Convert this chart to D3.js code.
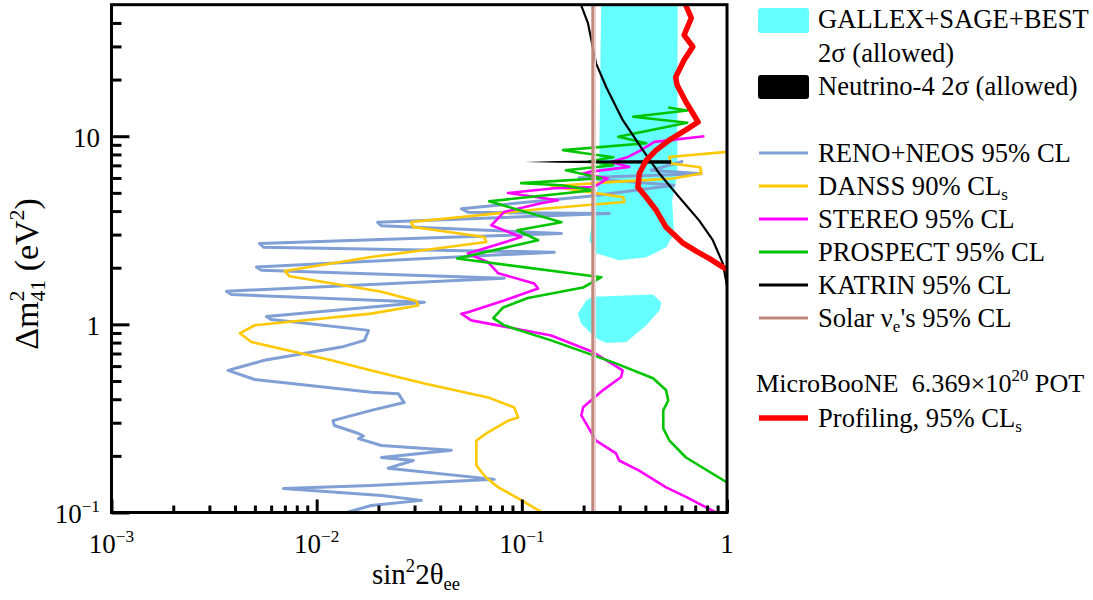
<!DOCTYPE html>
<html>
<head>
<meta charset="utf-8">
<script src="https://cdn.jsdelivr.net/npm/d3@7"></script>
<style>
  body { margin: 0; background: #fff; }
  text { font-family: "Liberation Serif", "Times New Roman", serif; fill: #000; }
</style>
</head>
<body>
<svg id="chart" width="1093" height="600"></svg>
<script>
// Axis ticks
const xMajor = [1e-3, 1e-2, 1e-1, 1];
const xMajorLabels = [["10", "−3"], ["10", "−2"], ["10", "−1"], ["1", ""]];
const yMajor = [0.1, 1, 10];
const yMajorLabels = [["10", "−1"], ["1", ""], ["10", ""]];
const xMinor = [2,3,4,5,6,7,8,9].flatMap(m => [m * 1e-3, m * 1e-2, m * 1e-1]);
const yMinor = [2,3,4,5,6,7,8,9].flatMap(m => [m * 0.1, m * 1]).concat([20, 30, 40]);

// Exclusion contours: [sin^2 2theta_ee, dm^2_41 (eV^2)]
const renoNeos = [[0.611,7.36],[0.427,6.59],[0.748,6.32],[0.190,6.02],[0.552,5.49],[0.213,4.80],[0.0507,4.12],[0.0548,3.94],[0.267,3.88],[0.0198,3.49],[0.0207,3.34],[0.156,3.04],[0.00526,2.69],[0.00550,2.57],[0.144,2.42],[0.00508,2.02],[0.00538,1.94],[0.0821,1.76],[0.00363,1.50],[0.00384,1.44],[0.0335,1.31],[0.00569,1.10],[0.00602,1.06],[0.0179,0.929],[0.0171,0.822],[0.0132,0.757],[0.00556,0.644],[0.00370,0.569],[0.00499,0.509],[0.01845,0.436],[0.0250,0.428],[0.0267,0.384],[0.01845,0.349],[0.0120,0.308],[0.0122,0.290],[0.0160,0.263],[0.0169,0.255],[0.0160,0.247],[0.0207,0.227],[0.0453,0.214],[0.0207,0.196],[0.0296,0.189],[0.0223,0.172],[0.0734,0.150],[0.01845,0.139],[0.00689,0.134],[0.0207,0.123],[0.0324,0.116],[0.01845,0.109],[0.0140,0.1]];

const danss = [[1.0,8.26],[0.523,7.76],[0.534,7.16],[0.740,6.84],[0.748,6.34],[0.547,5.96],[0.279,5.72],[0.139,5.42],[0.312,4.74],[0.316,4.47],[0.1315,4.13],[0.0289,3.50],[0.0295,3.29],[0.0656,2.91],[0.0671,2.74],[0.01845,2.28],[0.00699,1.92],[0.00738,1.80],[0.0207,1.49],[0.0306,1.33],[0.0312,1.26],[0.01845,1.14],[0.00499,0.989],[0.00422,0.896],[0.00481,0.805],[0.0118,0.644],[0.01845,0.569],[0.0335,0.485],[0.0685,0.409],[0.0918,0.362],[0.0960,0.320],[0.0859,0.308],[0.0671,0.263],[0.0600,0.241],[0.0600,0.178],[0.0671,0.153],[0.0768,0.136],[0.0960,0.119],[0.1256,0.1]];

const stereo = [[0.776,10.0],[0.443,9.33],[0.368,8.25],[0.329,7.76],[0.272,7.30],[0.334,6.87],[0.213,6.46],[0.199,6.34],[0.262,5.96],[0.225,5.37],[0.144,5.29],[0.0856,4.99],[0.150,4.57],[0.124,4.40],[0.082,3.96],[0.071,3.36],[0.0993,2.91],[0.0546,2.38],[0.0684,2.14],[0.0766,1.87],[0.115,1.65],[0.120,1.55],[0.082,1.34],[0.0546,1.16],[0.0507,1.14],[0.0567,1.05],[0.139,0.873],[0.222,0.713],[0.310,0.569],[0.305,0.525],[0.248,0.446],[0.199,0.363],[0.195,0.328],[0.230,0.241],[0.288,0.206],[0.298,0.189],[0.373,0.167],[0.505,0.136],[0.631,0.121],[0.883,0.1]];

const prospect = [[0.517,14.2],[0.640,13.7],[0.349,12.7],[0.640,11.8],[0.295,9.94],[0.404,9.18],[0.159,8.43],[0.279,7.73],[0.213,7.36],[0.279,7.01],[0.164,6.59],[0.244,5.98],[0.0993,5.63],[0.156,5.49],[0.223,5.16],[0.0693,4.51],[0.156,3.49],[0.0950,3.16],[0.120,2.80],[0.0484,2.24],[0.244,1.78],[0.199,1.57],[0.107,1.38],[0.0811,1.23],[0.0726,1.08],[0.0821,0.988],[0.139,0.822],[0.279,0.628],[0.436,0.517],[0.505,0.446],[0.517,0.394],[0.489,0.349],[0.489,0.280],[0.523,0.242],[0.631,0.196],[1.0,0.1445]];

const katrin = [[0.19,55],[0.1945,49.8],[0.210,39.9],[0.230,24.4],[0.258,18.2],[0.310,12.2],[0.389,8.43],[0.467,6.35],[0.585,4.74],[0.731,3.57],[0.853,2.80],[0.954,2.11],[1.0,1.61]];

const solarLimit = 0.222;

const microboone = [[0.605,55],[0.670,42.5],[0.618,34.5],[0.681,29.9],[0.618,25.4],[0.562,20.6],[0.571,18.7],[0.631,15.2],[0.723,11.9],[0.631,10.8],[0.523,9.53],[0.452,8.43],[0.404,7.45],[0.374,6.35],[0.368,5.36],[0.404,4.74],[0.452,4.04],[0.505,3.28],[0.611,2.70],[0.707,2.45],[0.818,2.24],[0.959,2.01],[1.0,1.96]];

// Allowed regions
const gallexUpper = [[0.244,60],[0.575,60],[0.573,6.35],[0.540,4.57],[0.552,3.05],[0.505,2.57],[0.404,2.27],[0.298,2.19],[0.230,2.39],[0.213,2.80],[0.223,3.80],[0.230,4.57],[0.238,6.35]];
const gallexLower = [[0.1875,1.14],[0.206,1.34],[0.222,1.40],[0.436,1.44],[0.478,1.31],[0.469,1.19],[0.404,0.99],[0.323,0.805],[0.258,0.796],[0.230,0.843],[0.1945,1.01]];
const neutrino4 = [[0.103,7.30],[0.15,7.38],[0.3,7.44],[0.534,7.46],[0.534,7.13],[0.3,7.15],[0.15,7.23]];

const svg = d3.select("#chart");
const x = d3.scaleLog().domain([1e-3, 1]).range([111.5, 727]);
const y = d3.scaleLog().domain([0.1, 50]).range([512.5, 4.7]);

svg.append("defs").append("clipPath").attr("id", "plotClip")
  .append("rect")
  .attr("x", x.range()[0]).attr("y", y.range()[1])
  .attr("width", x.range()[1] - x.range()[0])
  .attr("height", y.range()[0] - y.range()[1]);

const plot = svg.append("g").attr("clip-path", "url(#plotClip)");
const line = d3.line().x(d => x(d[0])).y(d => y(d[1]));
const area = d3.line().x(d => x(d[0])).y(d => y(d[1])).curve(d3.curveLinearClosed);

// Allowed regions
[gallexUpper, gallexLower].forEach(p =>
  plot.append("path").attr("d", area(p)).attr("fill", "#66ffff").attr("stroke", "none"));

// Exclusion curves
const curves = [
  { data: renoNeos, color: "#7f9fd5", width: 3 },
  { data: danss, color: "#ffc800", width: 2.6 },
  { data: stereo, color: "#ff00ff", width: 2.6 },
  { data: prospect, color: "#00c400", width: 2.6 },
  { data: katrin, color: "#000000", width: 2.2 }
];
curves.forEach(c =>
  plot.append("path").attr("d", line(c.data)).attr("fill", "none")
    .attr("stroke", c.color).attr("stroke-width", c.width)
    .attr("stroke-linejoin", "round"));

plot.append("path").attr("d", area(neutrino4)).attr("fill", "#000");

// Solar limit
plot.append("line")
  .attr("x1", x(solarLimit)).attr("x2", x(solarLimit))
  .attr("y1", y.range()[0]).attr("y2", y.range()[1])
  .attr("stroke", "#c0877d").attr("stroke-width", 3.2);
plot.append("line")
  .attr("transform", "translate(2.4,0)")
  .attr("x1", x(solarLimit)).attr("x2", x(solarLimit))
  .attr("y1", y.range()[0]).attr("y2", y.range()[1])
  .attr("stroke", "#ecd3cf").attr("stroke-width", 1.6);

// MicroBooNE profiling result
plot.append("path").attr("d", line(microboone)).attr("fill", "none")
  .attr("stroke", "#ff0000").attr("stroke-width", 5.5).attr("stroke-linejoin", "round");

// Axes with inward ticks
function styleAxis(g) {
  g.select(".domain").remove();
  g.selectAll(".tick line").attr("stroke", "#000").attr("stroke-width", 3);
  g.selectAll(".tick text").remove();
}
svg.append("g").attr("transform", `translate(${x.range()[0]},0)`)
  .call(d3.axisLeft(y).tickValues(yMajor).tickSize(-18)).call(styleAxis);
svg.append("g").attr("transform", `translate(${x.range()[0]},0)`)
  .call(d3.axisLeft(y).tickValues(yMinor).tickSize(-10)).call(styleAxis);
svg.append("g").attr("transform", `translate(0,${y.range()[0]})`)
  .call(d3.axisBottom(x).tickValues(xMajor).tickSize(-13)).call(styleAxis);
svg.append("g").attr("transform", `translate(0,${y.range()[0]})`)
  .call(d3.axisBottom(x).tickValues(xMinor).tickSize(-7)).call(styleAxis);

// Frame
svg.append("rect")
  .attr("x", x.range()[0]).attr("y", y.range()[1])
  .attr("width", x.range()[1] - x.range()[0])
  .attr("height", y.range()[0] - y.range()[1])
  .attr("fill", "none").attr("stroke", "#000").attr("stroke-width", 3);

// Rich text helper: parts of {t, sup, sub, dx}
function rich(sel, parts, size) {
  let shift = 0;
  parts.forEach(p => {
    if (!p.t) return;
    const target = p.sup ? -0.42 * size : p.sub ? 0.22 * size : 0;
    const ts = sel.append("tspan").attr("dy", target - shift).text(p.t);
    if (p.sup || p.sub) ts.attr("font-size", size * 0.64);
    if (p.dx) ts.attr("dx", p.dx);
    shift = target;
  });
  return sel;
}

// Tick labels
yMajor.forEach((v, i) => {
  const t = svg.append("text").attr("x", 100).attr("y", y(v) + 10.5)
    .attr("text-anchor", "end").attr("font-size", 27);
  rich(t, [{ t: yMajorLabels[i][0] }, { t: yMajorLabels[i][1], sup: true }], 27);
});
xMajor.forEach((v, i) => {
  const t = svg.append("text").attr("x", x(v)).attr("y", 553)
    .attr("text-anchor", "middle").attr("font-size", 27);
  rich(t, [{ t: xMajorLabels[i][0] }, { t: xMajorLabels[i][1], sup: true }], 27);
});

// Axis titles
const xt = svg.append("text").attr("x", 372).attr("y", 584).attr("font-size", 29);
rich(xt, [{ t: "sin" }, { t: "2", sup: true }, { t: "2θ" }, { t: "ee", sub: true }], 29);

const yt = svg.append("text").attr("transform", "translate(38,274) rotate(-90)")
  .attr("text-anchor", "middle").attr("font-size", 34);
rich(yt, [{ t: "Δm" }, { t: "2", sup: true }, { t: "41", sub: true, dx: -11 }, { t: " (eV" }, { t: "2", sup: true }, { t: ")" }], 34);

// Legend
const legend = svg.append("g");
const LX0 = 759, LX1 = 808, TX = 818, FS = 26.6;

legend.append("rect").attr("x", 758).attr("y", 8).attr("width", 51).attr("height", 25)
  .attr("rx", 3).attr("fill", "#66ffff");
legend.append("text").attr("x", TX).attr("y", 28).attr("font-size", FS).text("GALLEX+SAGE+BEST");
legend.append("text").attr("x", TX).attr("y", 62).attr("font-size", FS).text("2σ (allowed)");
legend.append("rect").attr("x", 758).attr("y", 75).attr("width", 51).attr("height", 24)
  .attr("rx", 3).attr("fill", "#000");
legend.append("text").attr("x", TX).attr("y", 95).attr("font-size", FS).text("Neutrino-4 2σ (allowed)");

const lineEntries = [
  { color: "#7f9fd5", ly: 153, parts: [{ t: "RENO+NEOS 95% CL" }] },
  { color: "#ffc800", ly: 186, parts: [{ t: "DANSS 90% CL" }, { t: "s", sub: true }] },
  { color: "#ff00ff", ly: 219, parts: [{ t: "STEREO 95% CL" }] },
  { color: "#00c400", ly: 252, parts: [{ t: "PROSPECT 95% CL" }] },
  { color: "#000000", ly: 285, parts: [{ t: "KATRIN 95% CL" }] },
  { color: "#c0877d", ly: 318, parts: [{ t: "Solar ν" }, { t: "e", sub: true }, { t: "'s 95% CL" }] }
];
lineEntries.forEach(e => {
  legend.append("line").attr("x1", LX0).attr("x2", LX1).attr("y1", e.ly).attr("y2", e.ly)
    .attr("stroke", e.color).attr("stroke-width", 3);
  const t = legend.append("text").attr("x", TX).attr("y", e.ly + 8.5).attr("font-size", FS);
  rich(t, e.parts, FS);
});

const mb = legend.append("text").attr("x", 756).attr("y", 392).attr("font-size", 26.2)
  .style("white-space", "pre");
rich(mb, [{ t: "MicroBooNE  6.369×10" }, { t: "20", sup: true }, { t: " POT" }], 26.2);
legend.append("line").attr("x1", LX0).attr("x2", LX1).attr("y1", 418).attr("y2", 418)
  .attr("stroke", "#ff0000").attr("stroke-width", 5.5);
const pf = legend.append("text").attr("x", TX).attr("y", 426.5).attr("font-size", FS);
rich(pf, [{ t: "Profiling, 95% CL" }, { t: "s", sub: true }], FS);
</script>
</body>
</html>
